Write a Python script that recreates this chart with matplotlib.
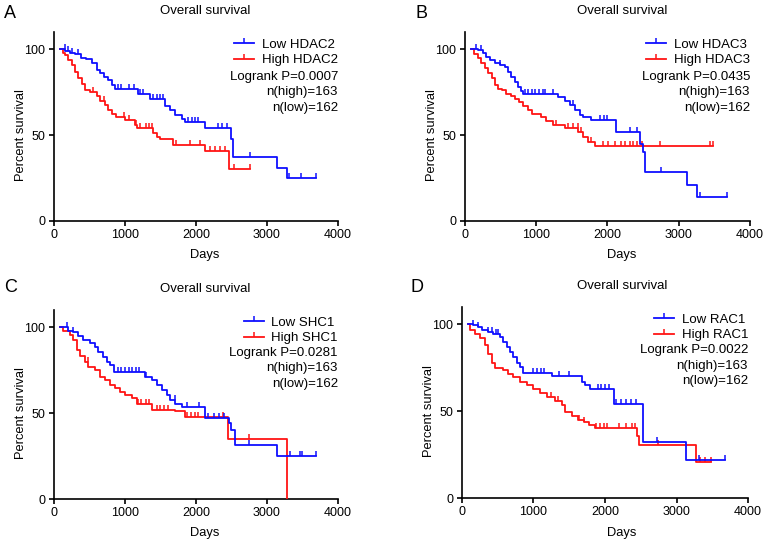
import numpy as np
import matplotlib
matplotlib.use("Agg")
import matplotlib.pyplot as plt
from matplotlib.lines import Line2D

plt.rcParams['font.family'] = ['Liberation Sans', 'DejaVu Sans']

BLUE = '#0f0fff'
RED = '#ff1414'

# ---- panel A: HDAC2 ----
a_low_t = [85, 160, 230, 300, 380, 450, 530, 600, 650, 700, 760, 810, 860, 1190, 1350,
           1560, 1630, 1700, 1800, 1845, 2130, 2495, 2520, 3145, 3280, 3690]
a_low_s = [100, 99, 98, 97, 95, 94, 92, 88, 86, 84, 82, 79, 77, 74, 71,
           67, 64.5, 61.5, 59.5, 57.5, 54, 48, 37.5, 31, 25, 25]
a_low_c = [150, 200, 250, 340, 900, 950, 1050, 1120, 1210, 1250, 1400, 1450, 1500, 1540,
           1890, 1940, 1980, 2030, 2310, 2360, 2430, 2760, 3310, 3485, 3690]
a_high_t = [85, 130, 160, 200, 250, 295, 340, 390, 440, 510, 600, 650, 720, 765, 810,
            880, 1000, 1140, 1165, 1400, 1445, 1490, 1680, 2130, 2465, 2760]
a_high_s = [100, 98, 96.5, 93.5, 90.5, 87, 83, 80, 76, 75, 73, 70, 67.5, 64.5, 62.5,
            60.5, 58.5, 56, 54, 51, 49, 47.5, 44, 41, 30.5, 30.5]
a_high_c = [550, 700, 980, 1050, 1160, 1210, 1300, 1340, 1375, 1720, 1910, 2060, 2200,
            2270, 2340, 2410, 2540, 2760]

# ---- panel B: HDAC3 ----
b_low_t = [85, 180, 250, 300, 350, 420, 490, 560, 605, 650, 700, 745, 790, 815, 1305,
           1400, 1470, 1540, 1610, 1660, 1775, 2120, 2455, 2495, 2530, 3120, 3260, 3680]
b_low_s = [100, 99.5, 97.5, 95.5, 93.5, 92, 91, 89.5, 87, 84, 81, 78, 75.5, 74, 72,
           70, 67.5, 64.5, 61.5, 60.5, 58.5, 52, 45, 40, 28.5, 21, 14, 14]
b_low_c = [150, 230, 490, 840, 890, 940, 990, 1040, 1090, 1130, 1240, 1520, 1900, 1950,
           2000, 2310, 2420, 2750, 3300, 3680]
b_high_t = [85, 130, 180, 230, 280, 330, 380, 420, 470, 520, 580, 640, 700, 760, 820,
            880, 940, 1070, 1140, 1240, 1400, 1590, 1660, 1730, 1820, 3480]
b_high_s = [100, 97, 95, 92, 89, 86, 83, 79, 77, 76, 74, 73, 71, 69, 67,
            64.5, 62.5, 60.5, 58, 56, 54, 52, 49, 46, 43.5, 43.5]
b_high_c = [1280, 1450, 1520, 1580, 1630, 1770, 1940, 2010, 2110, 2190, 2250, 2310,
            2360, 2420, 2480, 2740, 3440, 3480]

# ---- panel C: SHC1 ----
c_low_t = [85, 200, 270, 340, 410, 505, 575, 625, 695, 740, 790, 850, 1280, 1375, 1445,
           1515, 1585, 1635, 1705, 1800, 2125, 2470, 2500, 2550, 3135, 3690]
c_low_s = [100, 98, 97, 95, 92.5, 91, 88.5, 85.5, 82.5, 80, 78, 74, 71, 69, 66.5,
           63.5, 60.5, 57.5, 55.5, 53.5, 47, 44, 40, 31.5, 25, 25]
c_low_c = [180, 270, 900, 950, 1000, 1050, 1100, 1150, 1200, 1300, 1700, 1870, 2040,
           2170, 2250, 2330, 2400, 2750, 3320, 3460, 3490, 3690]
c_high_t = [85, 130, 225, 270, 320, 365, 435, 485, 575, 650, 720, 790, 860, 930, 1000,
            1095, 1165, 1375, 1705, 1845, 2455, 3275]
c_high_s = [100, 97.5, 95.5, 92.5, 86.5, 83.5, 80, 77, 75, 71, 69, 66.5, 64.5, 62.5, 60.5,
            58.5, 55, 52, 51, 47.5, 35, 0]
c_high_c = [480, 1180, 1230, 1290, 1340, 1450, 1500, 1550, 1600, 1880, 1930, 1980, 2030,
            2380, 2750]

# ---- panel D: RAC1 ----
d_low_t = [85, 160, 230, 275, 370, 440, 530, 580, 625, 670, 720, 765, 810, 860, 1255,
           1675, 1720, 1790, 2120, 2535, 3135, 3680]
d_low_s = [100, 99.5, 98.5, 96.5, 95.5, 94.5, 93, 90, 87, 84, 81, 78, 75.5, 72, 70,
           67, 65, 62.5, 54, 32.5, 22, 22]
d_low_c = [160, 230, 370, 420, 470, 510, 1000, 1050, 1100, 1150, 1350, 1500, 1900, 1950,
           2000, 2050, 2150, 2230, 2300, 2370, 2430, 2730, 3320, 3680]
d_high_t = [85, 110, 180, 250, 320, 370, 415, 460, 580, 650, 720, 810, 905, 1000, 1090,
            1185, 1300, 1395, 1440, 1535, 1625, 1700, 1770, 1860, 2445, 2480, 3275, 3480]
d_high_s = [100, 97, 94.5, 92, 88, 83, 78, 75, 73.5, 71.5, 69.5, 67, 65, 62.5, 60.5,
            58, 56, 53.5, 49.5, 47.5, 45, 43.5, 42, 40.5, 36, 30.5, 20.5, 20.5]
d_high_c = [1250, 1340, 1640, 1700, 1880, 1930, 1980, 2030, 2200, 2300, 2380, 2420,
            2740, 3330, 3400, 3480]

panels = [
    ("A", "HDAC2", "0.0007", a_low_t, a_low_s, a_low_c, a_high_t, a_high_s, a_high_c),
    ("B", "HDAC3", "0.0435", b_low_t, b_low_s, b_low_c, b_high_t, b_high_s, b_high_c),
    ("C", "SHC1", "0.0281", c_low_t, c_low_s, c_low_c, c_high_t, c_high_s, c_high_c),
    ("D", "RAC1", "0.0022", d_low_t, d_low_s, d_low_c, d_high_t, d_high_s, d_high_c),
]
n_high, n_low = 163, 162

# axes rects in figure fractions, letter / title positions
rects = [[0.0706, 0.5945, 0.3712, 0.3468],
         [0.6078, 0.5945, 0.3725, 0.3468],
         [0.0706, 0.0844, 0.3712, 0.3468],
         [0.6039, 0.0862, 0.3739, 0.3505]]
letters_xy = [(4, 13), (416, 13), (4, 287), (411, 287)]
title_x = [0.532, 0.551, 0.532, 0.559]


def step_at(t, s, x):
    i = np.searchsorted(t, x, side='right') - 1
    return np.asarray(s)[np.clip(i, 0, len(s) - 1)]


fig = plt.figure(figsize=(7.65, 5.45), dpi=100)
for k, (let, gene, p, lt, ls, lc, ht, hs, hc) in enumerate(panels):
    ax = fig.add_axes(rects[k])
    for t, s, c, col in [(ht, hs, hc, RED), (lt, ls, lc, BLUE)]:
        ax.step(t, s, where='post', color=col, lw=1.3, zorder=3)
        ax.plot(c, step_at(t, s, c), ls='none', marker=2, ms=3.5, mew=1.1,
                color=col, zorder=3)
    ax.set_xlim(0, 4000)
    ax.set_ylim(0, 110)
    ax.set_xticks([0, 1000, 2000, 3000, 4000])
    ax.set_yticks([0, 50, 100])
    for sp in ['top', 'right']:
        ax.spines[sp].set_visible(False)
    for sp in ['left', 'bottom']:
        ax.spines[sp].set_linewidth(1.2)
    ax.tick_params(width=1.2, length=3.6, labelsize=9, pad=2)
    ax.tick_params(axis='y', pad=2.5)
    ax.set_xlabel("Days", fontsize=9.3)
    ax.set_ylabel("Percent survival", fontsize=9.3)
    ax.xaxis.set_label_coords(title_x[k], -0.15)
    ax.yaxis.set_label_coords(-0.094, 0.455)
    ax.text(title_x[k], 1.11, "Overall survival", transform=ax.transAxes,
            ha='center', va='center', fontsize=9.5)
    fig.text(letters_xy[k][0] / 765, 1 - letters_xy[k][1] / 545, let,
             ha='left', va='center', fontsize=13)
    handles = [Line2D([], [], color=BLUE, lw=1.3, marker=2, ms=3.5, mew=1.1),
               Line2D([], [], color=RED, lw=1.3, marker=2, ms=3.5, mew=1.1)]
    ax.legend(handles, ["Low " + gene, "High " + gene], loc='upper right',
              bbox_to_anchor=(1.0, 0.965), frameon=False, fontsize=9.5,
              borderpad=0, borderaxespad=0, handlelength=1.5, handletextpad=0.6,
              labelspacing=0.25)
    stats = ["Logrank P=" + p, "n(high)=%d" % n_high, "n(low)=%d" % n_low]
    y0 = 0.762 if k < 2 else 0.775
    for j, line in enumerate(stats):
        ax.text(1.0, y0 - j * 0.082, line, transform=ax.transAxes,
                ha='right', va='center', fontsize=9.5)

fig.savefig("out.png", dpi=100)
